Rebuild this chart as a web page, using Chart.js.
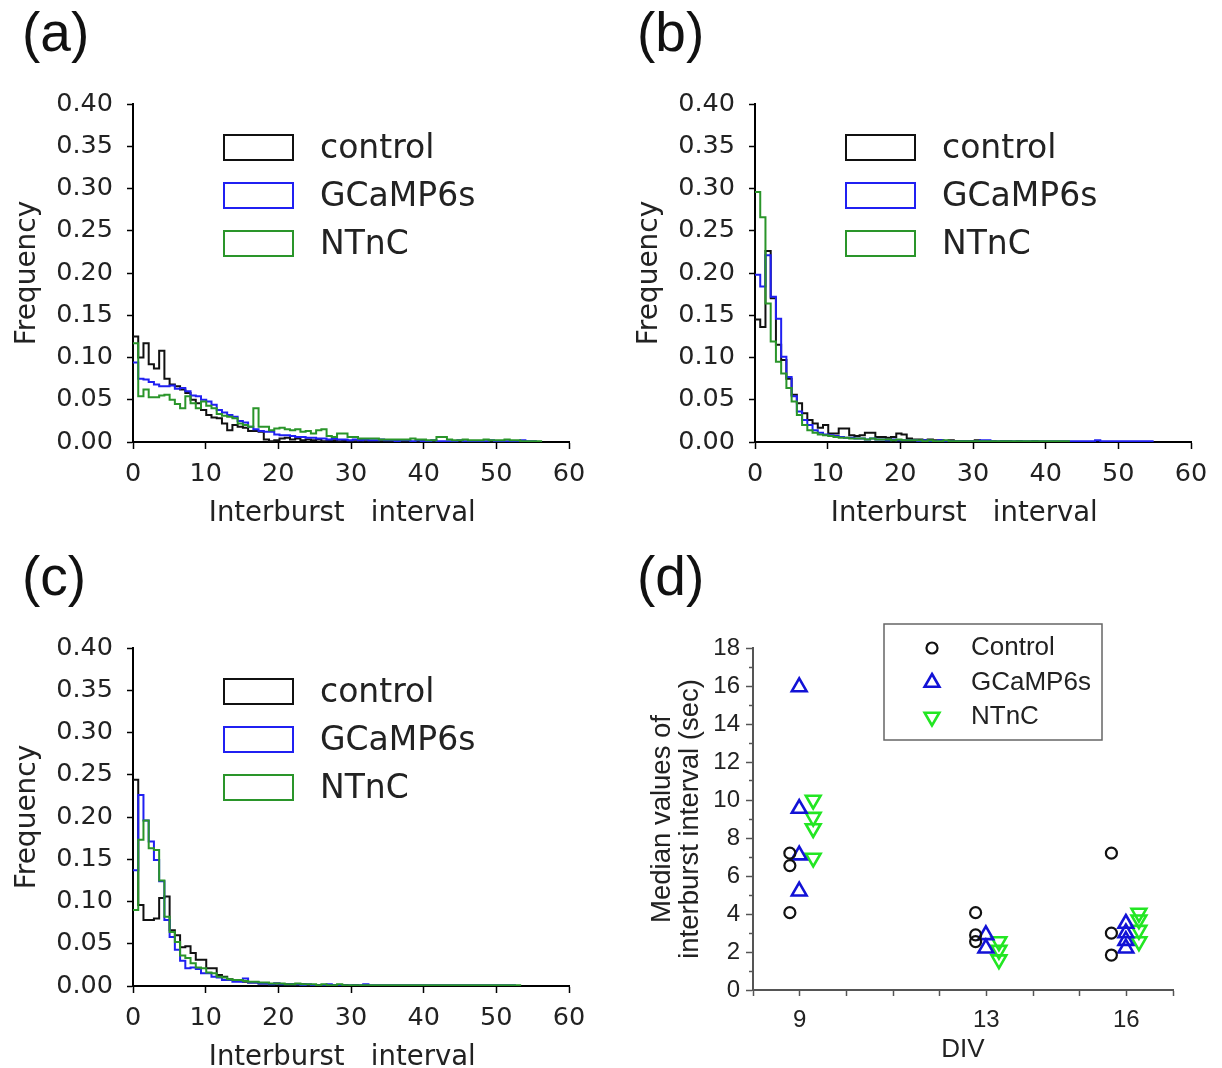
<!DOCTYPE html>
<html>
<head>
<meta charset="utf-8">
<script src="https://cdn.jsdelivr.net/npm/chart.js@4.4.0/dist/chart.umd.min.js"></script>
<style>
  html, body { margin: 0; padding: 0; background: #fff; overflow: hidden; }
  canvas { position: absolute; }
</style>
</head>
<body>
<canvas id="chartA" width="600" height="540" style="left:0;top:0"></canvas>
<canvas id="chartB" width="600" height="540" style="left:622px;top:0"></canvas>
<canvas id="chartC" width="600" height="540" style="left:0;top:544px"></canvas>
<canvas id="chartD" width="611" height="528" style="left:611px;top:540px"></canvas>
<script>
// histogram bins (width in seconds), frequency per bin
const binWidth = 0.72;
const seriesNames = ['control', 'GCaMP6s', 'NTnC'];

const aControl = [0.125, 0.100, 0.117, 0.092, 0.087, 0.108, 0.075, 0.068, 0.066, 0.062,
  0.058, 0.050, 0.046, 0.038, 0.032, 0.029, 0.028, 0.022, 0.014, 0.020,
  0.018, 0.017, 0.013, 0.013, 0.012, 0.003, 0.001, 0.002, 0.004, 0.005,
  0.003, 0.004, 0.002, 0.003, 0.002, 0.003, 0.001, 0.002, 0.002, 0.001,
  0.002, 0.001, 0.001, 0.002, 0.001, 0.001, 0.000, 0.001, 0.001, 0.000,
  0.001, 0.000, 0.001, 0.000, 0.000, 0.001, 0.000, 0.000];
const aGcamp = [0.094, 0.075, 0.074, 0.071, 0.068, 0.066, 0.066, 0.067, 0.063, 0.064,
  0.060, 0.055, 0.054, 0.050, 0.048, 0.044, 0.038, 0.035, 0.032, 0.030,
  0.025, 0.023, 0.018, 0.015, 0.013, 0.012, 0.012, 0.009, 0.008, 0.008,
  0.007, 0.006, 0.006, 0.005, 0.005, 0.004, 0.004, 0.003, 0.004, 0.003,
  0.003, 0.002, 0.003, 0.002, 0.003, 0.002, 0.002, 0.003, 0.002, 0.002,
  0.001, 0.002, 0.002, 0.001, 0.002, 0.001, 0.001, 0.002, 0.001, 0.001,
  0.001, 0.001, 0.002, 0.001, 0.001, 0.001, 0.001, 0.001, 0.002, 0.001,
  0.001, 0.001, 0.001, 0.001, 0.002, 0.001, 0.001];
const aNtnc = [0.117, 0.054, 0.062, 0.053, 0.053, 0.055, 0.056, 0.050, 0.045, 0.040,
  0.054, 0.046, 0.040, 0.048, 0.043, 0.040, 0.033, 0.031, 0.030, 0.028,
  0.022, 0.020, 0.018, 0.040, 0.018, 0.018, 0.014, 0.016, 0.017, 0.015,
  0.014, 0.015, 0.012, 0.013, 0.010, 0.014, 0.015, 0.007, 0.006, 0.010,
  0.010, 0.006, 0.006, 0.004, 0.004, 0.004, 0.004, 0.003, 0.003, 0.003,
  0.003, 0.003, 0.003, 0.004, 0.003, 0.003, 0.002, 0.002, 0.006, 0.006,
  0.003, 0.002, 0.002, 0.003, 0.002, 0.002, 0.002, 0.003, 0.002, 0.002,
  0.002, 0.003, 0.002, 0.002, 0.001, 0.001, 0.001, 0.001];

const bControl = [0.145, 0.136, 0.226, 0.170, 0.115, 0.097, 0.075, 0.056, 0.046, 0.034,
  0.026, 0.022, 0.017, 0.020, 0.010, 0.010, 0.016, 0.016, 0.008, 0.007,
  0.008, 0.011, 0.011, 0.006, 0.006, 0.005, 0.006, 0.010, 0.009, 0.004,
  0.003, 0.003, 0.002, 0.003, 0.002, 0.002, 0.001, 0.002, 0.001, 0.001,
  0.001, 0.001, 0.002, 0.001, 0.001, 0.001, 0.000, 0.001, 0.001, 0.000,
  0.001, 0.000, 0.000, 0.001];
const bGcamp = [0.198, 0.184, 0.221, 0.172, 0.146, 0.101, 0.077, 0.054, 0.036, 0.026,
  0.020, 0.014, 0.011, 0.009, 0.008, 0.007, 0.006, 0.005, 0.005, 0.004,
  0.004, 0.003, 0.004, 0.003, 0.003, 0.002, 0.003, 0.002, 0.002, 0.002,
  0.002, 0.001, 0.002, 0.001, 0.001, 0.002, 0.001, 0.001, 0.001, 0.001,
  0.001, 0.001, 0.001, 0.002, 0.002, 0.001, 0.001, 0.001, 0.001, 0.001,
  0.001, 0.001, 0.001, 0.001, 0.001, 0.001, 0.001, 0.001, 0.001, 0.001,
  0.001, 0.001, 0.001, 0.001, 0.001, 0.002, 0.001, 0.001, 0.001, 0.001,
  0.001, 0.001, 0.001, 0.001, 0.001, 0.001];
const bNtnc = [0.296, 0.266, 0.164, 0.119, 0.095, 0.081, 0.064, 0.048, 0.032, 0.020,
  0.014, 0.011, 0.009, 0.008, 0.007, 0.006, 0.005, 0.005, 0.004, 0.004,
  0.004, 0.003, 0.004, 0.003, 0.003, 0.003, 0.002, 0.003, 0.002, 0.002,
  0.002, 0.002, 0.001, 0.002, 0.001, 0.001, 0.002, 0.001, 0.001, 0.001,
  0.001, 0.001, 0.001, 0.001, 0.001, 0.001, 0.001, 0.001, 0.001, 0.001,
  0.001, 0.001, 0.001, 0.001, 0.001, 0.001, 0.001, 0.001, 0.001, 0.001];

const cControl = [0.244, 0.096, 0.078, 0.078, 0.080, 0.104, 0.106, 0.066, 0.060, 0.046,
  0.047, 0.039, 0.031, 0.031, 0.021, 0.021, 0.013, 0.011, 0.008, 0.007,
  0.007, 0.005, 0.004, 0.004, 0.003, 0.003, 0.002, 0.003, 0.002, 0.002,
  0.002, 0.001, 0.002, 0.001, 0.001, 0.001, 0.001, 0.001, 0.001, 0.001,
  0.001, 0.000, 0.001, 0.000, 0.001];
const cGcamp = [0.137, 0.226, 0.196, 0.171, 0.149, 0.124, 0.078, 0.058, 0.043, 0.030,
  0.021, 0.022, 0.020, 0.015, 0.015, 0.011, 0.010, 0.007, 0.007, 0.005,
  0.005, 0.009, 0.004, 0.004, 0.003, 0.003, 0.002, 0.003, 0.002, 0.002,
  0.002, 0.002, 0.001, 0.002, 0.001, 0.001, 0.001, 0.002, 0.001, 0.001,
  0.001, 0.001, 0.001, 0.001, 0.002, 0.001, 0.001, 0.001, 0.001, 0.001,
  0.001, 0.001, 0.001, 0.001, 0.001, 0.001, 0.001, 0.001, 0.001, 0.001,
  0.001, 0.001, 0.001, 0.001, 0.001, 0.001, 0.001, 0.001, 0.001, 0.001,
  0.001, 0.001, 0.001];
const cNtnc = [0.090, 0.173, 0.196, 0.163, 0.161, 0.125, 0.082, 0.064, 0.052, 0.036,
  0.033, 0.027, 0.022, 0.021, 0.016, 0.015, 0.011, 0.010, 0.008, 0.007,
  0.007, 0.006, 0.005, 0.005, 0.004, 0.004, 0.003, 0.003, 0.003, 0.002,
  0.002, 0.003, 0.002, 0.002, 0.002, 0.001, 0.002, 0.001, 0.001, 0.002,
  0.001, 0.001, 0.001, 0.001, 0.001, 0.001, 0.001, 0.001, 0.001, 0.001,
  0.001, 0.001, 0.001, 0.001, 0.001, 0.001, 0.001, 0.001, 0.001, 0.001,
  0.001, 0.001, 0.001, 0.001, 0.001, 0.001, 0.001, 0.001, 0.001, 0.001,
  0.001, 0.001, 0.001, 0.001];

// panel (d): median interburst interval per culture
const divLabels = [9, 13, 16];
const controlDiv = [8.79, 8.79, 8.79, 12.77, 12.77, 12.77, 15.68, 15.68, 15.68];
const controlMedian = [7.2, 6.55, 4.07, 4.07, 2.9, 2.55, 7.2, 2.99, 1.84];
const gcampDiv = [8.99, 8.99, 8.99, 8.99, 12.99, 12.99, 15.99, 15.99, 15.99, 15.99];
const gcampMedian = [15.95, 9.55, 7.1, 5.2, 2.9, 2.2, 3.5, 3.0, 2.6, 2.2];
const ntncDiv = [9.29, 9.29, 9.29, 9.29, 13.27, 13.27, 13.27, 16.27, 16.27, 16.27, 16.27];
const ntncMedian = [10.0, 9.1, 8.5, 6.95, 2.55, 2.1, 1.6, 4.05, 3.7, 3.15, 2.55];

Chart.defaults.font.family = '"DejaVu Sans", sans-serif';
Chart.defaults.color = '#222';

const panelText = {
  id: 'panelText',
  afterDraw(chart, args, opts) {
    const ctx = chart.ctx;
    ctx.save();
    ctx.fillStyle = '#111';
    ctx.font = '55px "Liberation Sans"';
    ctx.textBaseline = 'alphabetic';
    ctx.fillText(opts.label, opts.x, opts.y);
    ctx.restore();
  }
};

const boxLegend = {
  id: 'boxLegend',
  afterDraw(chart) {
    const {ctx, chartArea} = chart;
    ctx.save();
    ctx.lineWidth = 2;
    ctx.font = '33px "DejaVu Sans"';
    ctx.textBaseline = 'middle';
    chart.data.datasets.forEach((ds, i) => {
      const x = chartArea.left + 91, y = chartArea.top + 31 + 48 * i;
      ctx.strokeStyle = ds.borderColor;
      ctx.strokeRect(x, y, 69, 25);
      ctx.fillStyle = '#222';
      ctx.fillText(ds.label, chartArea.left + 187, y + 14);
    });
    ctx.restore();
  }
};

function drawMarker(ctx, style, r, rot, x, y) {
  ctx.beginPath();
  if (style === 'circle') {
    ctx.arc(x, y, r, 0, Math.PI * 2);
  } else {
    const a0 = rot * Math.PI / 180;
    for (let k = 0; k < 3; k++) {
      const a = a0 + k * 2 * Math.PI / 3;
      ctx.lineTo(x + Math.sin(a) * r, y - Math.cos(a) * r);
    }
    ctx.closePath();
  }
  ctx.stroke();
}

const markerLegend = {
  id: 'markerLegend',
  afterDraw(chart) {
    const {ctx, chartArea} = chart;
    ctx.save();
    ctx.strokeStyle = '#666';
    ctx.lineWidth = 1.5;
    ctx.strokeRect(chartArea.left + 131, chartArea.top - 24, 218, 116);
    ctx.font = '26px "Liberation Sans"';
    ctx.textBaseline = 'middle';
    chart.data.datasets.forEach((ds, i) => {
      const y = chartArea.top + 34.5 * i;
      ctx.strokeStyle = ds.borderColor;
      ctx.lineWidth = ds.pointBorderWidth;
      drawMarker(ctx, ds.pointStyle, ds.pointRadius, ds.pointRotation || 0, chartArea.left + 179, y);
      ctx.fillStyle = '#222';
      ctx.fillText(ds.label, chartArea.left + 218, y);
    });
    ctx.restore();
  }
};

function steps(values) {
  const pts = values.map((v, i) => ({x: i * binWidth, y: v}));
  pts.push({x: values.length * binWidth, y: 0});
  return pts;
}

function histChart(id, label, labelX, labelY, control, gcamp, ntnc) {
  return new Chart(document.getElementById(id), {
    type: 'line',
    data: {
      datasets: [
        {label: seriesNames[0], data: steps(control), borderColor: '#111', order: 3},
        {label: seriesNames[1], data: steps(gcamp), borderColor: '#2020f2', order: 2},
        {label: seriesNames[2], data: steps(ntnc), borderColor: '#2a952a', order: 1}
      ]
    },
    options: {
      responsive: false,
      animation: false,
      events: [],
      layout: {padding: {left: 0, right: 31, top: 104, bottom: 0}},
      elements: {
        point: {radius: 0},
        line: {borderWidth: 2, stepped: true, fill: false, tension: 0}
      },
      scales: {
        x: {
          type: 'linear', min: 0, max: 60,
          ticks: {stepSize: 10, font: {size: 25.5}, padding: 10, maxRotation: 0},
          grid: {drawOnChartArea: false, tickLength: 7, tickColor: '#000', tickWidth: 1.5},
          border: {color: '#000', width: 2},
          title: {display: true, text: 'Interburst   interval  ', font: {size: 27.5}, padding: {top: 0, bottom: 10}},
          afterFit: s => { s.height = 98; }
        },
        y: {
          min: 0, max: 0.4,
          ticks: {stepSize: 0.05, font: {size: 25.5}, padding: 14, callback: v => v.toFixed(2)},
          grid: {drawOnChartArea: false, tickLength: 6, tickColor: '#000', tickWidth: 1.5},
          border: {color: '#000', width: 2},
          title: {display: true, text: 'Frequency', font: {size: 28}, padding: {top: 11, bottom: 0}},
          afterFit: s => { s.width = 133; }
        }
      },
      plugins: {
        legend: {display: false},
        tooltip: {enabled: false},
        panelText: {label: label, x: labelX, y: labelY}
      }
    },
    plugins: [panelText, boxLegend]
  });
}

histChart('chartA', '(a)', 22, 51, aControl, aGcamp, aNtnc);
histChart('chartB', '(b)', 15, 51, bControl, bGcamp, bNtnc);
histChart('chartC', '(c)', 22, 51, cControl, cGcamp, cNtnc);

const toPoints = (xs, ys) => xs.map((x, i) => ({x: x, y: ys[i]}));

new Chart(document.getElementById('chartD'), {
  type: 'scatter',
  data: {
    datasets: [
      {label: 'Control', data: toPoints(controlDiv, controlMedian), pointStyle: 'circle',
       pointRadius: 5.5, pointBorderWidth: 2.2, borderColor: '#111', backgroundColor: 'rgba(0,0,0,0)'},
      {label: 'GCaMP6s', data: toPoints(gcampDiv, gcampMedian), pointStyle: 'triangle',
       pointRadius: 8.5, pointBorderWidth: 2.6, borderColor: '#1212d6', backgroundColor: 'rgba(0,0,0,0)'},
      {label: 'NTnC', data: toPoints(ntncDiv, ntncMedian), pointStyle: 'triangle', pointRotation: 180,
       pointRadius: 8.5, pointBorderWidth: 2.6, borderColor: '#22e622', backgroundColor: 'rgba(0,0,0,0)'}
    ]
  },
  options: {
    responsive: false,
    animation: false,
    events: [],
    font: {family: '"Liberation Sans"'},
    layout: {padding: {left: 0, right: 49, top: 108, bottom: 0}},
    scales: {
      x: {
        type: 'linear', min: 8, max: 17,
        ticks: {stepSize: 1, autoSkip: false, maxRotation: 0, padding: 10,
          font: {family: '"Liberation Sans"', size: 24},
          callback: v => divLabels.includes(v) ? String(v) : ''},
        grid: {drawOnChartArea: false, tickLength: 6, tickColor: '#555', tickWidth: 1.5},
        border: {color: '#555', width: 2},
        title: {display: true, text: 'DIV', font: {family: '"Liberation Sans"', size: 26}, padding: {top: 0, bottom: 3}},
        afterFit: s => { s.height = 78; }
      },
      y: {
        min: 0, max: 18,
        ticks: {stepSize: 1, autoSkip: false, padding: 6,
          font: {family: '"Liberation Sans"', size: 24},
          callback: v => v % 2 === 0 ? String(v) : ''},
        grid: {drawOnChartArea: false, tickLength: 7, tickColor: '#555', tickWidth: 1.5,
          tickBorderDash: c => (c.tick && c.tick.value % 2) ? [3, 100] : [],
          tickBorderDashOffset: c => (c.tick && c.tick.value % 2) ? 100 : 0},
        border: {color: '#555', width: 2},
        title: {display: true, text: ['Median values of', 'interburst interval (sec)'],
          font: {family: '"Liberation Sans"', size: 27.5, lineHeight: 1.018}, padding: {top: 37, bottom: 0}},
        afterFit: s => { s.width = 142; }
      }
    },
    plugins: {
      legend: {display: false},
      tooltip: {enabled: false},
      panelText: {label: '(d)', x: 26, y: 55}
    }
  },
  plugins: [panelText, markerLegend]
});
</script>
</body>
</html>
